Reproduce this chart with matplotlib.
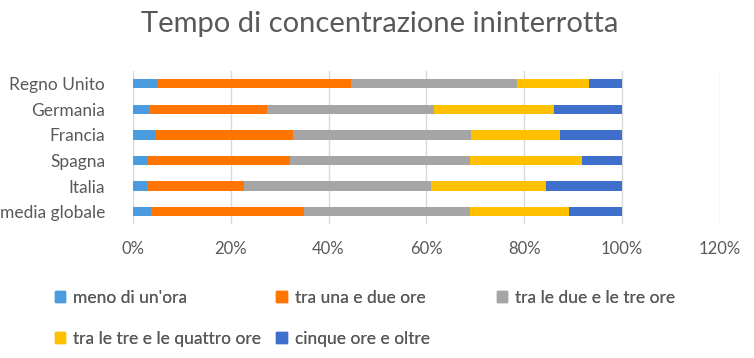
import matplotlib
matplotlib.use("Agg")
import matplotlib.pyplot as plt
import numpy as np
from matplotlib.patches import Patch
from matplotlib.ticker import PercentFormatter

# categories, top to bottom as in the chart
paesi = ["Regno Unito", "Germania", "Francia", "Spagna", "Italia", "media globale"]

series_names = ["meno di un'ora", "tra una e due ore", "tra le due e le tre ore",
                "tra le tre e le quattro ore", "cinque ore e oltre"]

meno_di_un_ora = [0.052, 0.033, 0.048, 0.030, 0.028, 0.037]
una_due_ore = [0.393, 0.242, 0.279, 0.292, 0.199, 0.313]
due_tre_ore = [0.341, 0.341, 0.365, 0.368, 0.382, 0.340]
tre_quattro_ore = [0.146, 0.246, 0.181, 0.229, 0.236, 0.202]
cinque_e_oltre = [0.068, 0.138, 0.127, 0.081, 0.155, 0.108]

colori = ["#4B9CDF", "#FF7500", "#A5A5A5", "#FFC000", "#3E6FCB"]
grigio = "#595959"

plt.rcParams['font.family'] = ['Lato', 'DejaVu Sans']

fig = plt.figure(figsize=(7.54, 3.58), dpi=100)
ax = fig.add_axes([0.1764, 0.373, 0.778, 0.429])

serie = [meno_di_un_ora, una_due_ore, due_tre_ore, tre_quattro_ore, cinque_e_oltre]
y = np.arange(len(paesi))
left = np.zeros(len(paesi))
for vals, col, nome in zip(serie, colori, series_names):
    ax.barh(y, vals, left=left, height=0.37, color=col, label=nome, zorder=3)
    left += np.array(vals)

ax.set_xlim(0, 1.2)
ax.set_ylim(len(paesi) - 0.5, -0.5)
ax.set_yticks(y)
ax.set_yticklabels(paesi, fontsize=12.5, color=grigio)
ax.set_xticks(np.arange(0, 1.21, 0.2))
ax.xaxis.set_major_formatter(PercentFormatter(1.0, decimals=0))
ax.tick_params(axis='x', labelsize=12, labelcolor=grigio, length=0, pad=12)
ax.tick_params(axis='y', length=0, pad=20)
ax.grid(axis='x', color="#D9D9D9", lw=1, zorder=0)
for s in ax.spines.values():
    s.set_visible(False)

fig.text(0.504, 0.932, "Tempo di concentrazione ininterrotta", ha='center', va='center',
         fontsize=21, color=grigio)

# legend: Excel-like equal-width columns, built as three column legends
handles = [Patch(color=c) for c in colori]
colonne = [([0, 3], 0.061), ([1, 4], 0.355), ([2], 0.647)]
for idx, x0 in colonne:
    leg = fig.legend([handles[i] for i in idx], [series_names[i] for i in idx],
                     loc='upper left', bbox_to_anchor=(x0, 0.215), frameon=False,
                     fontsize=12.5, handlelength=0.6, handleheight=0.6,
                     handletextpad=0.45, labelspacing=1.45, borderpad=0,
                     labelcolor=grigio)
    fig.add_artist(leg)

fig.savefig("out.png", dpi=100)
